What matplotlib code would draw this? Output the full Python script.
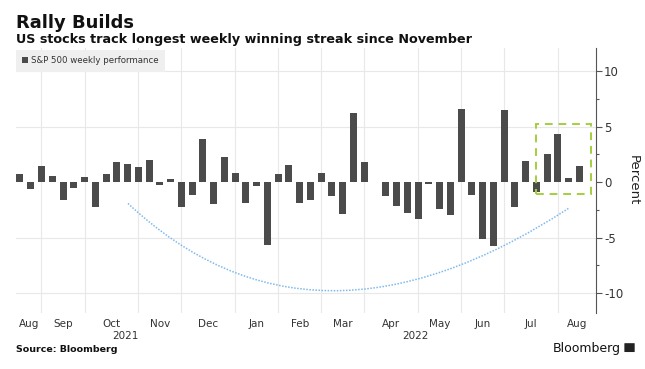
import pandas as pd
import numpy as np
from matplotlib import pyplot as plt
from matplotlib.path import Path
from matplotlib.patches import PathPatch, Rectangle, FancyBboxPatch
from matplotlib import transforms

# weekly S&P 500 performance, percent (week ending Friday)
start_week = '2021-08-13'
weekly_perf = [0.7, -0.6, 1.5, 0.55, -1.65, -0.57, 0.5, -2.2, 0.75, 1.8,
               1.6, 1.35, 2.0, -0.3, 0.27, -2.2, -1.2, 3.9, -1.95, 2.3,
               0.85, -1.85, -0.33, -5.7, 0.78, 1.55, -1.85, -1.57, 0.85, -1.27,
               -2.9, 6.2, 1.8, 0.05, -1.27, -2.15, -2.75, -3.3, -0.2, -2.4,
               -3.0, 6.6, -1.2, -5.1, -5.8, 6.5, -2.2, 1.95, -0.85, 2.55,
               4.3, 0.35, 1.45]
y_ticks = [-10, -5, 0, 5, 10]

# highlight box (streak) and the hand-drawn trough curve, data coords
box_x = [48, 53.05]
box_y = [-1.1, 5.25]
curve_x = [10.04, 27.13, 50.98]
curve_y = [-1.92, -17.44, -2.37]

dates = pd.date_range(start_week, periods=len(weekly_perf), freq='7D')
idx = np.arange(len(weekly_perf))

fig = plt.figure(figsize=(6.45, 3.69), dpi=100)
ax = fig.add_axes([0.0248, 0.1518, 0.8988, 0.7181])
xmin, xmax = -0.37, 53.52
ax.set_xlim(xmin, xmax)
ax.set_ylim(-11.8, 12.1)

# month boundaries = last week of each month
months = pd.Series(dates.to_period('M'))
last_in_month = [i for i in idx[:-1] if months[i] != months[i + 1]]
for b in last_in_month:
    ax.axvline(b, color='#e8e8e8', lw=0.8, zorder=0)
for t in y_ticks:
    if t != 0:
        ax.axhline(t, color='#e8e8e8', lw=0.8, zorder=0)

bars = ax.bar(idx, weekly_perf, width=0.65, color='#4b4b4b', zorder=2,
              label='S&P 500 weekly performance')

# month labels centred between boundaries
edges = [xmin] + last_in_month + [xmax]
centers = [(edges[k] + edges[k + 1]) / 2 for k in range(len(edges) - 1)]
month_names = [d.strftime('%b') for d in pd.date_range(dates[0], dates[-1], freq='MS').insert(0, dates[0])]
ax.set_xticks(centers)
ax.set_xticklabels(month_names, fontsize=7.5, color='#333333')
ax.tick_params(axis='x', length=0, pad=4)

# year labels
trans = transforms.blended_transform_factory(ax.transData, ax.transAxes)
jan = last_in_month[4]
ax.text((xmin + jan) / 2, -0.085, '2021', transform=trans, ha='center', va='center',
        fontsize=7.5, color='#333333')
ax.text((jan + xmax) / 2, -0.085, '2022', transform=trans, ha='center', va='center',
        fontsize=7.5, color='#333333')

ax.yaxis.tick_right()
ax.yaxis.set_label_position('right')
ax.set_yticks(y_ticks)
ax.set_yticks(np.arange(-10, 11, 2.5), minor=True)
ax.set_yticklabels([str(t) for t in y_ticks], fontsize=8.5, color='#333333')
ax.tick_params(axis='y', which='major', length=4, width=0.8, color='#555555', pad=2)
ax.tick_params(axis='y', which='minor', length=2.5, width=0.8, color='#555555')
ax.set_ylabel('Percent', fontsize=9.5, rotation=270, labelpad=12, color='#222222')
for s in ['top', 'left', 'bottom']:
    ax.spines[s].set_visible(False)
ax.spines['right'].set_color('#555555')
ax.spines['right'].set_linewidth(0.8)

# highlight box
ax.add_patch(Rectangle((box_x[0], box_y[0]), box_x[1] - box_x[0], box_y[1] - box_y[0],
                       fill=False, edgecolor='#a4cf3c', lw=1.4, ls=(0, (4, 3)), zorder=3))

# trough curve
verts = list(zip(curve_x, curve_y))
ax.add_patch(PathPatch(Path(verts, [Path.MOVETO, Path.CURVE3, Path.CURVE3]), fill=False,
                       edgecolor='#7db9ee', lw=1.1, ls=(0, (1, 1)), zorder=1))

leg = ax.legend(loc='upper left', bbox_to_anchor=(0, 0.993), borderaxespad=0, fontsize=6.2,
                frameon=True, fancybox=False, facecolor='#efefef', edgecolor='none',
                framealpha=1, handlelength=0.7, handleheight=0.7, handletextpad=0.3,
                borderpad=0.75)
for t in leg.get_texts():
    t.set_color('#333333')

fig.text(0.025, 0.925, 'Rally Builds', fontsize=13, fontweight='bold', color='#111111')
fig.text(0.025, 0.884, 'US stocks track longest weekly winning streak since November',
         fontsize=9.2, fontweight='bold', color='#111111')
fig.text(0.025, 0.046, 'Source: Bloomberg', fontsize=6.8, fontweight='bold', color='#111111')
fig.text(0.962, 0.046, 'Bloomberg', fontsize=9, color='#111111', ha='right')
fig.patches.append(FancyBboxPatch((0.969, 0.047), 0.014, 0.022, boxstyle='round,pad=0.001',
                                  transform=fig.transFigure, facecolor='#222222',
                                  edgecolor='none'))

plt.savefig('out.png', dpi=100)
